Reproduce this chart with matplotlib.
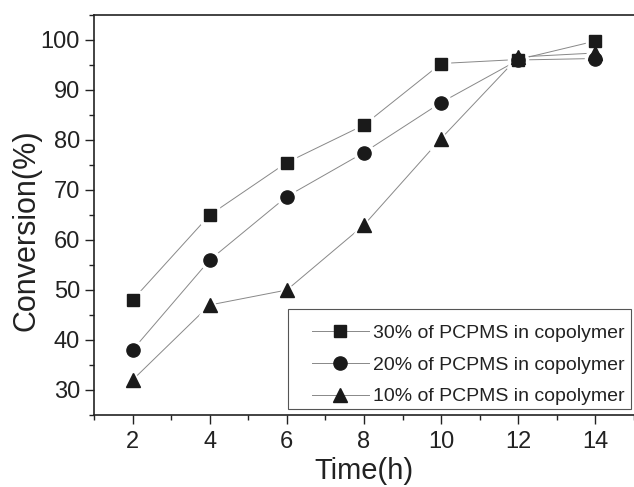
import matplotlib
matplotlib.use("Agg")
import matplotlib.pyplot as plt
from matplotlib.ticker import MultipleLocator
from matplotlib.patches import Rectangle

plt.rcParams['font.family'] = ['Liberation Sans', 'DejaVu Sans']

time_h = [2, 4, 6, 8, 10, 12, 14]
pcpms_30 = [48, 65, 75.5, 83, 95.3, 96.1, 99.8]
pcpms_20 = [38, 56, 68.7, 77.5, 87.5, 96.0, 96.3]
pcpms_10 = [32, 47, 50, 63, 80.3, 96.6, 97.4]
labels = ['30% of PCPMS in copolymer', '20% of PCPMS in copolymer', '10% of PCPMS in copolymer']

W, H = 634, 487
fig = plt.figure(figsize=(W/100, H/100), dpi=100)
ax = fig.add_axes([94/W, 1 - 415/H, (W - 94)/W, (415 - 15)/H])

styles = [('s', 8), ('o', 9.5), ('^', 10.5)]
series = [pcpms_30, pcpms_20, pcpms_10]
handles = []
for ys in series:
    ax.plot(time_h, ys, color='#888888', lw=0.7, zorder=2)
for ys, (m, ms) in zip(series, styles):
    ax.plot(time_h, ys, ls='none', marker=m, ms=ms + 5, mfc='white', mec='white', zorder=3)
for ys, lab, (m, ms) in zip(series, labels, styles):
    ax.plot(time_h, ys, ls='none', marker=m, ms=ms, mfc='#1a1a1a', mec='#1a1a1a', zorder=4)
    h, = ax.plot([], [], color='#888888', lw=0.7, marker=m, ms=ms,
                 mfc='#1a1a1a', mec='#1a1a1a', label=lab)
    handles.append(h)

ax.set_xlim(1, 15)
ax.set_ylim(25, 105)
ax.xaxis.set_major_locator(MultipleLocator(2))
ax.xaxis.set_minor_locator(MultipleLocator(1))
ax.set_yticks(range(30, 101, 10))
ax.yaxis.set_minor_locator(MultipleLocator(5))
ax.tick_params(which='both', direction='out', labelsize=17, color='#222222', labelcolor='#222222')
ax.tick_params(which='major', length=6.5, width=1, pad=3.5)
ax.tick_params(axis='x', which='major', pad=5)
ax.tick_params(which='minor', length=3.5, width=1)
for s in ['left', 'bottom', 'top']:
    ax.spines[s].set_linewidth(1.2)
    ax.spines[s].set_color('#222222')
ax.spines['right'].set_visible(False)

ax.set_xlabel('Time(h)', fontsize=21, labelpad=3, color='#222222')
ax.set_ylabel('Conversion(%)', fontsize=22, color='#222222')
ax.yaxis.set_label_coords(-0.098, 0.4625)

leg = ax.legend(handles=handles, loc='center right',
                bbox_to_anchor=((625 - 94)/540, (415 - 365)/400),
                fontsize=14, frameon=False,
                handlelength=2.9, borderpad=0, labelspacing=0.72, handletextpad=0.25,
                borderaxespad=0)
for t in leg.get_texts():
    t.set_color('#222222')
frame = Rectangle((288/W, 1 - 409/H), (631 - 288)/W, (409 - 309)/H,
                  transform=fig.transFigure, fill=True, facecolor='white',
                  edgecolor='#555555', lw=0.8, zorder=5)
fig.add_artist(frame)
leg.set_zorder(6)
fig.add_artist(leg)

fig.savefig('out.png', dpi=100)
